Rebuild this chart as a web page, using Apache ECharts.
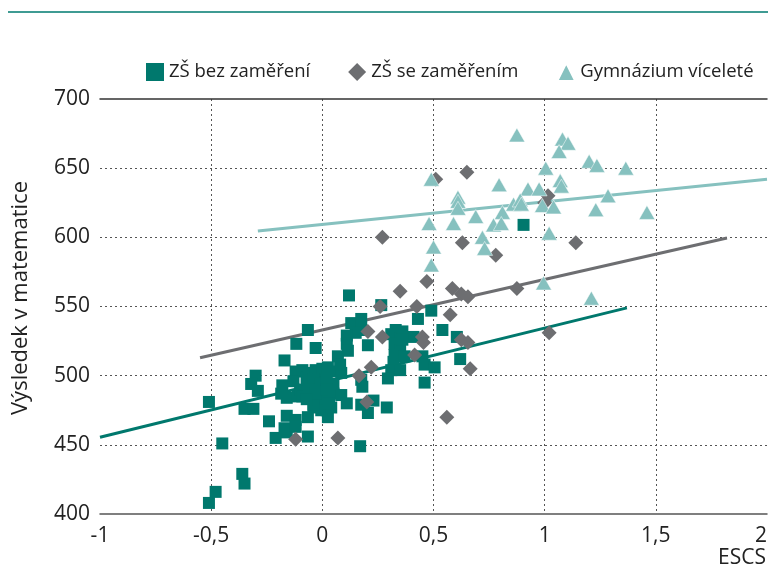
<!DOCTYPE html>
<html>
<head>
<meta charset="utf-8">
<script src="https://cdn.jsdelivr.net/npm/echarts@6/dist/echarts.min.js"></script>
<style>
  html, body { margin: 0; padding: 0; background: #fff; }
  #chart { width: 768px; height: 576px; }
</style>
</head>
<body>
<div id="chart"></div>
<script>
// ESCS index vs. mathematics score, three school types
const seriesNames = ['ZŠ bez zaměření', 'ZŠ se zaměřením', 'Gymnázium víceleté'];

const zsBez = [
  [-0.51,481], [-0.45,451], [-0.51,408], [-0.48,416], [-0.36,429], [-0.35,422],
  [-0.35,476], [-0.31,476], [-0.30,500], [-0.32,494], [-0.29,489],
  [-0.24,467], [-0.21,455], [-0.16,459], [-0.17,462], [-0.16,471],
  [-0.12,468], [-0.12,463], [-0.065,470], [-0.065,456],
  [-0.18,493], [-0.185,487], [-0.16,484],
  [-0.17,511], [-0.117,523], [-0.065,533], [-0.03,520],
  [-0.12,503], [-0.09,504], [-0.07,499], [-0.13,496], [-0.11,485], [-0.10,490],
  [-0.05,494], [-0.02,492], [0,497], [0.02,504], [-0.005,502], [-0.03,482], [0,482],
  [0.02,475], [-0.04,477], [-0.09,485], [-0.06,485],
  [0.025,470], [-0.005,475], [0.04,477], [-0.04,479],
  [-0.06,502], [-0.03,504], [0,505], [0.025,506], [0.05,503], [0.085,502],
  [-0.07,497], [-0.04,497], [-0.01,494], [0.02,497], [0.05,494], [-0.06,490],
  [-0.03,487], [0.02,490], [0.05,487], [-0.07,483], [0.03,480], [0.085,486],
  [0.12,558], [0.265,551], [0.49,547], [0.43,541],
  [0.13,538], [0.175,541], [0.175,533], [0.15,531], [0.11,529], [0.11,523], [0.115,518],
  [0.205,522], [0.07,514], [0.08,508],
  [0.31,530], [0.33,533], [0.35,527], [0.325,523], [0.35,518], [0.325,515], [0.32,510],
  [0.31,504], [0.35,504],
  [0.41,528], [0.37,514], [0.295,498], [0.46,495], [0.175,497], [0.18,492],
  [0.11,480], [0.175,479], [0.23,482], [0.29,477], [0.205,473], [0.17,449],
  [0.54,533], [0.605,528], [0.36,532], [0.36,526], [0.45,514], [0.46,508], [0.505,506],
  [0.62,512], [0.905,609]
];

const zsSe = [
  [0.47,568], [0.35,561], [0.585,563], [0.625,559], [0.655,557], [0.26,550], [0.425,550],
  [0.575,544], [0.205,532], [0.27,528], [0.45,528], [0.455,524], [0.625,526], [0.655,524],
  [0.415,515], [0.665,505], [0.22,506], [0.165,500], [0.2,481], [0.56,470], [0.07,455],
  [-0.12,454], [0.65,647], [0.51,642], [1.015,630], [1.0,625], [0.63,596], [0.78,587],
  [1.14,596], [0.875,563], [0.27,600], [1.02,531]
];

const gymnazium = [
  [0.875,674], [1.08,671], [1.105,668], [1.065,662], [1.2,655], [1.235,652], [1.365,650],
  [1.005,650], [0.49,642], [0.795,638], [1.07,641], [1.075,637], [0.925,635], [0.975,635],
  [0.61,629], [0.61,626], [0.61,621], [0.86,624], [0.89,627], [0.895,624], [0.99,623],
  [1.04,622], [1.285,630], [1.23,620], [1.46,618], [0.48,610], [0.59,610], [0.69,615],
  [0.81,618], [0.77,609], [0.805,610], [1.02,603], [0.72,600], [0.73,592], [0.5,593],
  [0.49,580], [0.995,567], [1.21,556]
];

// linear fits, one per school type (start and end points)
const fitBez = [[-1, 455.5], [1.37, 549]];
const fitSe = [[-0.55, 513], [1.82, 599.5]];
const fitGym = [[-0.29, 604.5], [2, 642]];

const xTicks = { min: -1, max: 2, interval: 0.5 };
const yTicks = { min: 400, max: 700, interval: 50 };

const colBez = '#00786d';
const colSe = '#6d6e71';
const colGym = '#86c1bf';
const labelFont = '"Liberation Sans Narrow", "Open Sans", Lato, sans-serif';

const diamondPath = 'path://M0,-1L1,0L0,1L-1,0Z';

const chart = echarts.init(document.getElementById('chart'), null, { renderer: 'canvas' });

const dotted = { color: '#555', width: 1, type: [2, 3] };

chart.setOption({
  animation: false,
  backgroundColor: '#fff',
  grid: { left: 100, right: 1, top: 99, bottom: 62, containLabel: false, outerBoundsMode: 'none' },
  legend: {
    left: 146,
    top: 62,
    width: 660,
    padding: 0,
    itemWidth: 18,
    itemHeight: 18,
    itemGap: 38,
    textStyle: { fontFamily: labelFont, fontSize: 18.5, color: '#222' },
    data: [
      { name: seriesNames[0], icon: 'rect' },
      { name: seriesNames[1], icon: diamondPath },
      { name: seriesNames[2], icon: 'triangle' }
    ]
  },
  xAxis: [{
    type: 'value',
    min: xTicks.min, max: xTicks.max, interval: xTicks.interval,
    axisLine: { show: true, onZero: false, lineStyle: { color: '#555', width: 1.5 } },
    axisTick: { show: false },
    axisLabel: {
      margin: 12, fontSize: 21, color: '#222', fontFamily: labelFont,
      alignMaxLabel: 'right',
      formatter: v => String(v).replace('.', ',')
    },
    splitLine: { show: true, showMinLine: false, showMaxLine: false, lineStyle: dotted }
  }, {
    type: 'value',
    position: 'top',
    min: xTicks.min, max: xTicks.max,
    axisLine: { show: true, onZero: false, lineStyle: { color: '#333', width: 1.5 } },
    axisTick: { show: false },
    axisLabel: { show: false },
    splitLine: { show: false }
  }],
  yAxis: {
    type: 'value',
    min: yTicks.min, max: yTicks.max, interval: yTicks.interval,
    axisLine: { show: false },
    axisTick: { show: false },
    axisLabel: { margin: 10, fontSize: 21, color: '#222', fontFamily: labelFont },
    splitLine: { show: true, showMinLine: false, showMaxLine: false, lineStyle: dotted }
  },
  graphic: [
    {
      type: 'line',
      shape: { x1: 8, y1: 12, x2: 768, y2: 12 },
      style: { stroke: '#3f9b93', lineWidth: 2 }
    },
    {
      type: 'text',
      right: 2, top: 548,
      style: { text: 'ESCS', font: '21px ' + labelFont, fill: '#222' }
    },
    {
      type: 'text',
      x: 21, y: 298,
      rotation: Math.PI / 2,
      style: {
        text: 'Výsledek v matematice', font: '22px ' + labelFont, fill: '#222',
        align: 'center', verticalAlign: 'middle'
      }
    }
  ],
  series: [
    {
      name: 'fit-bez', type: 'line', data: fitBez, symbol: 'none', silent: true,
      lineStyle: { color: colBez, width: 3 }, z: 1
    },
    {
      name: 'fit-se', type: 'line', data: fitSe, symbol: 'none', silent: true,
      lineStyle: { color: colSe, width: 3 }, z: 1
    },
    {
      name: 'fit-gym', type: 'line', data: fitGym, symbol: 'none', silent: true,
      lineStyle: { color: colGym, width: 3 }, z: 1
    },
    {
      name: seriesNames[0], type: 'scatter', data: zsBez, symbol: 'rect', symbolSize: 12,
      itemStyle: { color: colBez, opacity: 1 }, z: 2
    },
    {
      name: seriesNames[1], type: 'scatter', data: zsSe, symbol: diamondPath, symbolSize: 15,
      itemStyle: { color: colSe, opacity: 1 }, z: 3
    },
    {
      name: seriesNames[2], type: 'scatter', data: gymnazium, symbol: 'triangle', symbolSize: [16, 14],
      itemStyle: { color: colGym, borderColor: '#fff', borderWidth: 0.5, opacity: 1 }, z: 4
    }
  ]
});
</script>
</body>
</html>
